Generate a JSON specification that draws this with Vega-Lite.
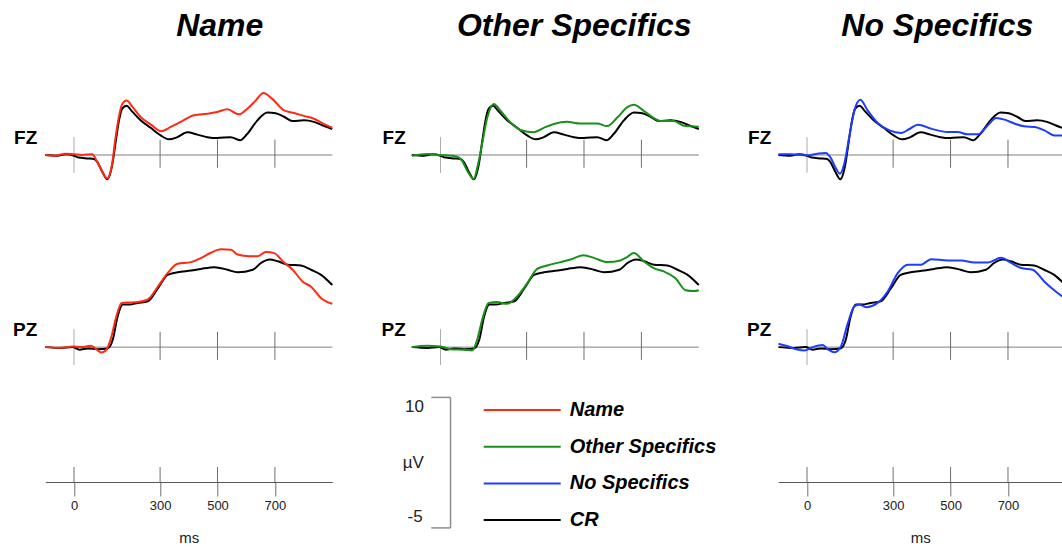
{
"$schema": "https://vega.github.io/schema/vega-lite/v6.json",
"padding": {"left": 12.3, "top": 10, "right": 0, "bottom": 0},
"background": "white",
"config": {"view": {"stroke": null}, "font": "Liberation Sans"},
"datasets": {
"ticks": [{"t": 0}, {"t": 300}, {"t": 500}, {"t": 700}],
"erp": [
{"cond":"CR","site":"FZ","t":-100,"v":0},{"cond":"CR","site":"FZ","t":-58,"v":-0.08},{"cond":"CR","site":"FZ","t":-29,"v":0.08},{"cond":"CR","site":"FZ","t":0,"v":-0.08},{"cond":"CR","site":"FZ","t":17,"v":-0.3},{"cond":"CR","site":"FZ","t":46,"v":-0.4},{"cond":"CR","site":"FZ","t":70,"v":-0.47},{"cond":"CR","site":"FZ","t":81,"v":-0.8},{"cond":"CR","site":"FZ","t":99,"v":-2.0},{"cond":"CR","site":"FZ","t":116,"v":-2.85},{"cond":"CR","site":"FZ","t":134,"v":-1.0},{"cond":"CR","site":"FZ","t":145,"v":1.5},{"cond":"CR","site":"FZ","t":157,"v":4.1},{"cond":"CR","site":"FZ","t":168,"v":5.45},{"cond":"CR","site":"FZ","t":183,"v":5.8},{"cond":"CR","site":"FZ","t":203,"v":5.1},{"cond":"CR","site":"FZ","t":232,"v":4.1},{"cond":"CR","site":"FZ","t":267,"v":3.2},{"cond":"CR","site":"FZ","t":302,"v":2.3},{"cond":"CR","site":"FZ","t":331,"v":1.84},{"cond":"CR","site":"FZ","t":360,"v":2.1},{"cond":"CR","site":"FZ","t":395,"v":2.67},{"cond":"CR","site":"FZ","t":430,"v":2.4},{"cond":"CR","site":"FZ","t":465,"v":2.1},{"cond":"CR","site":"FZ","t":499,"v":2.0},{"cond":"CR","site":"FZ","t":546,"v":2.1},{"cond":"CR","site":"FZ","t":578,"v":1.73},{"cond":"CR","site":"FZ","t":604,"v":2.5},{"cond":"CR","site":"FZ","t":639,"v":4.08},{"cond":"CR","site":"FZ","t":674,"v":5.0},{"cond":"CR","site":"FZ","t":703,"v":4.9},{"cond":"CR","site":"FZ","t":732,"v":4.5},{"cond":"CR","site":"FZ","t":761,"v":4.0},{"cond":"CR","site":"FZ","t":801,"v":4.08},{"cond":"CR","site":"FZ","t":836,"v":3.9},{"cond":"CR","site":"FZ","t":865,"v":3.5},{"cond":"CR","site":"FZ","t":900,"v":3.06},
{"cond":"Name","site":"FZ","t":-100,"v":0},{"cond":"Name","site":"FZ","t":-70,"v":-0.08},{"cond":"Name","site":"FZ","t":-29,"v":0.16},{"cond":"Name","site":"FZ","t":0,"v":0.08},{"cond":"Name","site":"FZ","t":29,"v":0},{"cond":"Name","site":"FZ","t":64,"v":0.1},{"cond":"Name","site":"FZ","t":75,"v":-0.43},{"cond":"Name","site":"FZ","t":93,"v":-1.6},{"cond":"Name","site":"FZ","t":116,"v":-2.75},{"cond":"Name","site":"FZ","t":132,"v":-1.2},{"cond":"Name","site":"FZ","t":145,"v":2.1},{"cond":"Name","site":"FZ","t":157,"v":4.6},{"cond":"Name","site":"FZ","t":168,"v":6.0},{"cond":"Name","site":"FZ","t":183,"v":6.4},{"cond":"Name","site":"FZ","t":203,"v":5.7},{"cond":"Name","site":"FZ","t":232,"v":4.47},{"cond":"Name","site":"FZ","t":267,"v":3.6},{"cond":"Name","site":"FZ","t":304,"v":2.8},{"cond":"Name","site":"FZ","t":337,"v":3.3},{"cond":"Name","site":"FZ","t":372,"v":3.9},{"cond":"Name","site":"FZ","t":418,"v":4.67},{"cond":"Name","site":"FZ","t":465,"v":4.86},{"cond":"Name","site":"FZ","t":499,"v":5.06},{"cond":"Name","site":"FZ","t":534,"v":5.37},{"cond":"Name","site":"FZ","t":575,"v":4.78},{"cond":"Name","site":"FZ","t":604,"v":5.45},{"cond":"Name","site":"FZ","t":633,"v":6.4},{"cond":"Name","site":"FZ","t":660,"v":7.3},{"cond":"Name","site":"FZ","t":691,"v":6.6},{"cond":"Name","site":"FZ","t":732,"v":5.25},{"cond":"Name","site":"FZ","t":767,"v":4.94},{"cond":"Name","site":"FZ","t":801,"v":4.6},{"cond":"Name","site":"FZ","t":836,"v":4.27},{"cond":"Name","site":"FZ","t":865,"v":3.76},{"cond":"Name","site":"FZ","t":900,"v":3.2},
{"cond":"CR","site":"PZ","t":-100,"v":0},{"cond":"CR","site":"PZ","t":-45,"v":-0.1},{"cond":"CR","site":"PZ","t":-5,"v":0},{"cond":"CR","site":"PZ","t":19,"v":-0.3},{"cond":"CR","site":"PZ","t":48,"v":-0.16},{"cond":"CR","site":"PZ","t":82,"v":-0.24},{"cond":"CR","site":"PZ","t":117,"v":-0.16},{"cond":"CR","site":"PZ","t":135,"v":0.86},{"cond":"CR","site":"PZ","t":152,"v":3.6},{"cond":"CR","site":"PZ","t":170,"v":5.0},{"cond":"CR","site":"PZ","t":193,"v":5.0},{"cond":"CR","site":"PZ","t":222,"v":5.2},{"cond":"CR","site":"PZ","t":257,"v":5.4},{"cond":"CR","site":"PZ","t":292,"v":6.9},{"cond":"CR","site":"PZ","t":326,"v":8.5},{"cond":"CR","site":"PZ","t":361,"v":8.8},{"cond":"CR","site":"PZ","t":408,"v":9.0},{"cond":"CR","site":"PZ","t":443,"v":9.2},{"cond":"CR","site":"PZ","t":489,"v":9.4},{"cond":"CR","site":"PZ","t":535,"v":9.1},{"cond":"CR","site":"PZ","t":570,"v":8.8},{"cond":"CR","site":"PZ","t":623,"v":9.1},{"cond":"CR","site":"PZ","t":652,"v":9.9},{"cond":"CR","site":"PZ","t":681,"v":10.3},{"cond":"CR","site":"PZ","t":710,"v":10.1},{"cond":"CR","site":"PZ","t":744,"v":9.7},{"cond":"CR","site":"PZ","t":791,"v":9.6},{"cond":"CR","site":"PZ","t":826,"v":9.1},{"cond":"CR","site":"PZ","t":861,"v":8.5},{"cond":"CR","site":"PZ","t":900,"v":7.3},
{"cond":"Name","site":"PZ","t":-100,"v":0},{"cond":"Name","site":"PZ","t":-45,"v":-0.08},{"cond":"Name","site":"PZ","t":-5,"v":0.08},{"cond":"Name","site":"PZ","t":24,"v":0},{"cond":"Name","site":"PZ","t":59,"v":0.16},{"cond":"Name","site":"PZ","t":80,"v":-0.3},{"cond":"Name","site":"PZ","t":94,"v":-0.63},{"cond":"Name","site":"PZ","t":111,"v":-0.4},{"cond":"Name","site":"PZ","t":129,"v":1.06},{"cond":"Name","site":"PZ","t":146,"v":3.4},{"cond":"Name","site":"PZ","t":166,"v":5.2},{"cond":"Name","site":"PZ","t":193,"v":5.25},{"cond":"Name","site":"PZ","t":222,"v":5.3},{"cond":"Name","site":"PZ","t":257,"v":5.6},{"cond":"Name","site":"PZ","t":292,"v":7.1},{"cond":"Name","site":"PZ","t":326,"v":8.7},{"cond":"Name","site":"PZ","t":361,"v":9.8},{"cond":"Name","site":"PZ","t":408,"v":10.0},{"cond":"Name","site":"PZ","t":443,"v":10.5},{"cond":"Name","site":"PZ","t":477,"v":11.1},{"cond":"Name","site":"PZ","t":512,"v":11.5},{"cond":"Name","site":"PZ","t":547,"v":11.45},{"cond":"Name","site":"PZ","t":570,"v":10.9},{"cond":"Name","site":"PZ","t":611,"v":10.7},{"cond":"Name","site":"PZ","t":640,"v":10.7},{"cond":"Name","site":"PZ","t":669,"v":11.2},{"cond":"Name","site":"PZ","t":698,"v":11.06},{"cond":"Name","site":"PZ","t":727,"v":10.1},{"cond":"Name","site":"PZ","t":762,"v":9.1},{"cond":"Name","site":"PZ","t":797,"v":7.7},{"cond":"Name","site":"PZ","t":826,"v":7.1},{"cond":"Name","site":"PZ","t":861,"v":5.76},{"cond":"Name","site":"PZ","t":900,"v":5.1},
{"cond":"Other Specifics","site":"FZ","t":-100,"v":-0.08},{"cond":"Other Specifics","site":"FZ","t":-46,"v":0.12},{"cond":"Other Specifics","site":"FZ","t":0,"v":0},{"cond":"Other Specifics","site":"FZ","t":58,"v":-0.2},{"cond":"Other Specifics","site":"FZ","t":75,"v":-0.67},{"cond":"Other Specifics","site":"FZ","t":93,"v":-1.84},{"cond":"Other Specifics","site":"FZ","t":116,"v":-2.8},{"cond":"Other Specifics","site":"FZ","t":130,"v":-1.2},{"cond":"Other Specifics","site":"FZ","t":145,"v":1.3},{"cond":"Other Specifics","site":"FZ","t":163,"v":4.4},{"cond":"Other Specifics","site":"FZ","t":186,"v":6.0},{"cond":"Other Specifics","site":"FZ","t":209,"v":5.2},{"cond":"Other Specifics","site":"FZ","t":244,"v":3.84},{"cond":"Other Specifics","site":"FZ","t":279,"v":2.94},{"cond":"Other Specifics","site":"FZ","t":325,"v":2.67},{"cond":"Other Specifics","site":"FZ","t":360,"v":3.2},{"cond":"Other Specifics","site":"FZ","t":395,"v":3.65},{"cond":"Other Specifics","site":"FZ","t":441,"v":3.9},{"cond":"Other Specifics","site":"FZ","t":488,"v":3.7},{"cond":"Other Specifics","site":"FZ","t":546,"v":3.7},{"cond":"Other Specifics","site":"FZ","t":581,"v":3.4},{"cond":"Other Specifics","site":"FZ","t":616,"v":4.4},{"cond":"Other Specifics","site":"FZ","t":650,"v":5.6},{"cond":"Other Specifics","site":"FZ","t":674,"v":5.9},{"cond":"Other Specifics","site":"FZ","t":708,"v":5.2},{"cond":"Other Specifics","site":"FZ","t":743,"v":4.35},{"cond":"Other Specifics","site":"FZ","t":767,"v":4.0},{"cond":"Other Specifics","site":"FZ","t":813,"v":4.0},{"cond":"Other Specifics","site":"FZ","t":848,"v":3.45},{"cond":"Other Specifics","site":"FZ","t":900,"v":3.33},
{"cond":"Other Specifics","site":"PZ","t":-100,"v":0},{"cond":"Other Specifics","site":"PZ","t":-46,"v":0.16},{"cond":"Other Specifics","site":"PZ","t":0,"v":0.08},{"cond":"Other Specifics","site":"PZ","t":35,"v":-0.24},{"cond":"Other Specifics","site":"PZ","t":81,"v":-0.3},{"cond":"Other Specifics","site":"PZ","t":110,"v":-0.4},{"cond":"Other Specifics","site":"PZ","t":128,"v":0.86},{"cond":"Other Specifics","site":"PZ","t":145,"v":3.2},{"cond":"Other Specifics","site":"PZ","t":168,"v":5.2},{"cond":"Other Specifics","site":"PZ","t":197,"v":5.3},{"cond":"Other Specifics","site":"PZ","t":232,"v":5.1},{"cond":"Other Specifics","site":"PZ","t":267,"v":5.96},{"cond":"Other Specifics","site":"PZ","t":302,"v":7.5},{"cond":"Other Specifics","site":"PZ","t":337,"v":9.2},{"cond":"Other Specifics","site":"PZ","t":372,"v":9.6},{"cond":"Other Specifics","site":"PZ","t":418,"v":10.0},{"cond":"Other Specifics","site":"PZ","t":453,"v":10.3},{"cond":"Other Specifics","site":"PZ","t":499,"v":10.8},{"cond":"Other Specifics","site":"PZ","t":534,"v":10.5},{"cond":"Other Specifics","site":"PZ","t":581,"v":10.0},{"cond":"Other Specifics","site":"PZ","t":627,"v":10.2},{"cond":"Other Specifics","site":"PZ","t":650,"v":10.6},{"cond":"Other Specifics","site":"PZ","t":674,"v":11.06},{"cond":"Other Specifics","site":"PZ","t":708,"v":10.1},{"cond":"Other Specifics","site":"PZ","t":743,"v":9.3},{"cond":"Other Specifics","site":"PZ","t":778,"v":8.9},{"cond":"Other Specifics","site":"PZ","t":819,"v":8.1},{"cond":"Other Specifics","site":"PZ","t":854,"v":6.7},{"cond":"Other Specifics","site":"PZ","t":883,"v":6.6},{"cond":"Other Specifics","site":"PZ","t":900,"v":6.7},
{"cond":"No Specifics","site":"FZ","t":-100,"v":0.08},{"cond":"No Specifics","site":"FZ","t":-56,"v":0.08},{"cond":"No Specifics","site":"FZ","t":0,"v":-0.04},{"cond":"No Specifics","site":"FZ","t":37,"v":0.16},{"cond":"No Specifics","site":"FZ","t":66,"v":0.24},{"cond":"No Specifics","site":"FZ","t":84,"v":-0.43},{"cond":"No Specifics","site":"FZ","t":101,"v":-1.6},{"cond":"No Specifics","site":"FZ","t":115,"v":-2.2},{"cond":"No Specifics","site":"FZ","t":130,"v":-1.0},{"cond":"No Specifics","site":"FZ","t":147,"v":2.1},{"cond":"No Specifics","site":"FZ","t":165,"v":5.25},{"cond":"No Specifics","site":"FZ","t":186,"v":6.5},{"cond":"No Specifics","site":"FZ","t":211,"v":5.25},{"cond":"No Specifics","site":"FZ","t":246,"v":3.76},{"cond":"No Specifics","site":"FZ","t":287,"v":2.9},{"cond":"No Specifics","site":"FZ","t":328,"v":2.6},{"cond":"No Specifics","site":"FZ","t":357,"v":3.06},{"cond":"No Specifics","site":"FZ","t":386,"v":3.57},{"cond":"No Specifics","site":"FZ","t":432,"v":3.1},{"cond":"No Specifics","site":"FZ","t":490,"v":2.7},{"cond":"No Specifics","site":"FZ","t":525,"v":2.7},{"cond":"No Specifics","site":"FZ","t":560,"v":2.43},{"cond":"No Specifics","site":"FZ","t":595,"v":2.43},{"cond":"No Specifics","site":"FZ","t":630,"v":3.5},{"cond":"No Specifics","site":"FZ","t":659,"v":4.35},{"cond":"No Specifics","site":"FZ","t":688,"v":4.16},{"cond":"No Specifics","site":"FZ","t":722,"v":3.7},{"cond":"No Specifics","site":"FZ","t":757,"v":3.37},{"cond":"No Specifics","site":"FZ","t":792,"v":3.3},{"cond":"No Specifics","site":"FZ","t":827,"v":2.9},{"cond":"No Specifics","site":"FZ","t":862,"v":2.3},{"cond":"No Specifics","site":"FZ","t":900,"v":2.3},
{"cond":"No Specifics","site":"PZ","t":-100,"v":0.4},{"cond":"No Specifics","site":"PZ","t":-73,"v":0.16},{"cond":"No Specifics","site":"PZ","t":-38,"v":-0.24},{"cond":"No Specifics","site":"PZ","t":-9,"v":-0.4},{"cond":"No Specifics","site":"PZ","t":20,"v":0},{"cond":"No Specifics","site":"PZ","t":55,"v":0.24},{"cond":"No Specifics","site":"PZ","t":72,"v":-0.24},{"cond":"No Specifics","site":"PZ","t":95,"v":-0.6},{"cond":"No Specifics","site":"PZ","t":118,"v":0.08},{"cond":"No Specifics","site":"PZ","t":142,"v":2.8},{"cond":"No Specifics","site":"PZ","t":165,"v":4.8},{"cond":"No Specifics","site":"PZ","t":182,"v":5.0},{"cond":"No Specifics","site":"PZ","t":206,"v":4.7},{"cond":"No Specifics","site":"PZ","t":246,"v":5.2},{"cond":"No Specifics","site":"PZ","t":281,"v":6.55},{"cond":"No Specifics","site":"PZ","t":316,"v":8.7},{"cond":"No Specifics","site":"PZ","t":351,"v":9.7},{"cond":"No Specifics","site":"PZ","t":397,"v":9.7},{"cond":"No Specifics","site":"PZ","t":432,"v":10.35},{"cond":"No Specifics","site":"PZ","t":490,"v":10.2},{"cond":"No Specifics","site":"PZ","t":537,"v":10.2},{"cond":"No Specifics","site":"PZ","t":583,"v":9.96},{"cond":"No Specifics","site":"PZ","t":630,"v":9.96},{"cond":"No Specifics","site":"PZ","t":676,"v":10.5},{"cond":"No Specifics","site":"PZ","t":711,"v":9.9},{"cond":"No Specifics","site":"PZ","t":746,"v":9.3},{"cond":"No Specifics","site":"PZ","t":786,"v":9.1},{"cond":"No Specifics","site":"PZ","t":827,"v":7.7},{"cond":"No Specifics","site":"PZ","t":862,"v":6.67},{"cond":"No Specifics","site":"PZ","t":900,"v":5.7}
]
},
"columns": 3,
"bounds": "flush",
"spacing": {"row": 0, "column": 79.5},
"concat": [
{"width": 287, "height": 153,
 "title": {"text": "Name", "font": "Liberation Sans", "fontSize": 32, "fontWeight": "bold", "fontStyle": "italic", "color": "#000000", "anchor": "middle", "frame": "group", "dx": 31, "offset": 2, "baseline": "alphabetic"},
 "layer": [
  {"data": {"values": [{}]}, "mark": {"type": "rule", "color": "#808080", "strokeWidth": 1}, "encoding": {"x": {"datum": -100, "type": "quantitative", "scale": {"domain": [-100, 900], "nice": false, "zero": false}, "axis": null}, "x2": {"datum": 900}, "y": {"datum": 0, "type": "quantitative", "scale": {"domain": [-8, 10], "nice": false, "zero": false}, "axis": null}}},
  {"data": {"name": "ticks"}, "transform": [{"filter": "datum.t > 0"}], "mark": {"type": "rule", "color": "#6e6e6e", "strokeWidth": 1}, "encoding": {"x": {"field": "t", "type": "quantitative"}, "y": {"datum": 1.8, "type": "quantitative"}, "y2": {"datum": -1.5}}},
  {"data": {"name": "ticks"}, "transform": [{"filter": "datum.t === 0"}], "mark": {"type": "rule", "color": "#ababab", "strokeWidth": 1}, "encoding": {"x": {"field": "t", "type": "quantitative"}, "y": {"datum": 2.1, "type": "quantitative"}, "y2": {"datum": -2.1}}},
  {"data": {"name": "erp"}, "transform": [{"filter": "datum.site === 'FZ' && datum.cond === 'CR'"}], "mark": {"type": "line", "interpolate": "monotone", "strokeWidth": 2}, "encoding": {"x": {"field": "t", "type": "quantitative"}, "y": {"field": "v", "type": "quantitative"}, "color": {"field": "cond", "type": "nominal", "scale": {"domain": ["Name", "Other Specifics", "No Specifics", "CR"], "range": ["#ff2a12", "#199119", "#1e3cff", "#000000"]}, "legend": {"orient": "none", "legendX": 437.4, "legendY": 330, "title": null, "padding": 0, "symbolType": "stroke", "symbolSize": 5929, "symbolStrokeWidth": 2, "clipHeight": 20, "labelFont": "Liberation Sans", "labelFontSize": 20, "labelFontWeight": "bold", "labelFontStyle": "italic", "labelColor": "#000000", "labelOffset": 8, "labelLimit": 300, "rowPadding": 16.7}}}},
  {"data": {"name": "erp"}, "transform": [{"filter": "datum.site === 'FZ' && datum.cond === 'Name'"}], "mark": {"type": "line", "interpolate": "monotone", "strokeWidth": 2}, "encoding": {"x": {"field": "t", "type": "quantitative"}, "y": {"field": "v", "type": "quantitative"}, "color": {"field": "cond", "type": "nominal"}}},
  {"data": {"values": [{}]}, "mark": {"type": "text", "text": "FZ", "align": "right", "baseline": "middle", "dx": -8, "font": "Liberation Sans", "fontSize": 19, "fontWeight": "bold", "color": "#000000"}, "encoding": {"x": {"datum": -100, "type": "quantitative"}, "y": {"datum": 2, "type": "quantitative"}}}
 ]},
{"width": 287, "height": 153,
 "title": {"text": "Other Specifics", "font": "Liberation Sans", "fontSize": 32, "fontWeight": "bold", "fontStyle": "italic", "color": "#000000", "anchor": "middle", "frame": "group", "dx": 19, "offset": 2, "baseline": "alphabetic"},
 "layer": [
  {"data": {"values": [{}]}, "mark": {"type": "rule", "color": "#808080", "strokeWidth": 1}, "encoding": {"x": {"datum": -100, "type": "quantitative", "scale": {"domain": [-100, 900], "nice": false, "zero": false}, "axis": null}, "x2": {"datum": 900}, "y": {"datum": 0, "type": "quantitative", "scale": {"domain": [-8, 10], "nice": false, "zero": false}, "axis": null}}},
  {"data": {"name": "ticks"}, "transform": [{"filter": "datum.t > 0"}], "mark": {"type": "rule", "color": "#6e6e6e", "strokeWidth": 1}, "encoding": {"x": {"field": "t", "type": "quantitative"}, "y": {"datum": 1.8, "type": "quantitative"}, "y2": {"datum": -1.5}}},
  {"data": {"name": "ticks"}, "transform": [{"filter": "datum.t === 0"}], "mark": {"type": "rule", "color": "#ababab", "strokeWidth": 1}, "encoding": {"x": {"field": "t", "type": "quantitative"}, "y": {"datum": 2.1, "type": "quantitative"}, "y2": {"datum": -2.1}}},
  {"data": {"name": "erp"}, "transform": [{"filter": "datum.site === 'FZ' && datum.cond === 'CR'"}], "mark": {"type": "line", "interpolate": "monotone", "strokeWidth": 2}, "encoding": {"x": {"field": "t", "type": "quantitative"}, "y": {"field": "v", "type": "quantitative"}, "color": {"field": "cond", "type": "nominal"}}},
  {"data": {"name": "erp"}, "transform": [{"filter": "datum.site === 'FZ' && datum.cond === 'Other Specifics'"}], "mark": {"type": "line", "interpolate": "monotone", "strokeWidth": 2}, "encoding": {"x": {"field": "t", "type": "quantitative"}, "y": {"field": "v", "type": "quantitative"}, "color": {"field": "cond", "type": "nominal"}}},
  {"data": {"values": [{}]}, "mark": {"type": "text", "text": "FZ", "align": "right", "baseline": "middle", "dx": -6, "font": "Liberation Sans", "fontSize": 19, "fontWeight": "bold", "color": "#000000"}, "encoding": {"x": {"datum": -100, "type": "quantitative"}, "y": {"datum": 2, "type": "quantitative"}}}
 ]},
{"width": 284, "height": 153,
 "title": {"text": "No Specifics", "font": "Liberation Sans", "fontSize": 32, "fontWeight": "bold", "fontStyle": "italic", "color": "#000000", "anchor": "middle", "frame": "group", "dx": 17, "offset": 2, "baseline": "alphabetic"},
 "layer": [
  {"data": {"values": [{}]}, "mark": {"type": "rule", "color": "#808080", "strokeWidth": 1}, "encoding": {"x": {"datum": -100, "type": "quantitative", "scale": {"domain": [-100, 889.2], "nice": false, "zero": false}, "axis": null}, "x2": {"datum": 889.2}, "y": {"datum": 0, "type": "quantitative", "scale": {"domain": [-8, 10], "nice": false, "zero": false}, "axis": null}}},
  {"data": {"name": "ticks"}, "transform": [{"filter": "datum.t > 0"}], "mark": {"type": "rule", "color": "#6e6e6e", "strokeWidth": 1}, "encoding": {"x": {"field": "t", "type": "quantitative"}, "y": {"datum": 1.8, "type": "quantitative"}, "y2": {"datum": -1.5}}},
  {"data": {"name": "ticks"}, "transform": [{"filter": "datum.t === 0"}], "mark": {"type": "rule", "color": "#ababab", "strokeWidth": 1}, "encoding": {"x": {"field": "t", "type": "quantitative"}, "y": {"datum": 2.1, "type": "quantitative"}, "y2": {"datum": -2.1}}},
  {"data": {"name": "erp"}, "transform": [{"filter": "datum.site === 'FZ' && datum.cond === 'CR'"}], "mark": {"type": "line", "interpolate": "monotone", "strokeWidth": 2, "clip": true}, "encoding": {"x": {"field": "t", "type": "quantitative"}, "y": {"field": "v", "type": "quantitative"}, "color": {"field": "cond", "type": "nominal"}}},
  {"data": {"name": "erp"}, "transform": [{"filter": "datum.site === 'FZ' && datum.cond === 'No Specifics'"}], "mark": {"type": "line", "interpolate": "monotone", "strokeWidth": 2, "clip": true}, "encoding": {"x": {"field": "t", "type": "quantitative"}, "y": {"field": "v", "type": "quantitative"}, "color": {"field": "cond", "type": "nominal"}}},
  {"data": {"values": [{}]}, "mark": {"type": "text", "text": "FZ", "align": "right", "baseline": "middle", "dx": -7, "font": "Liberation Sans", "fontSize": 19, "fontWeight": "bold", "color": "#000000"}, "encoding": {"x": {"datum": -100, "type": "quantitative"}, "y": {"datum": 2, "type": "quantitative"}}}
 ]},
{"width": 287, "height": 244,
 "layer": [
  {"data": {"values": [{}]}, "mark": {"type": "rule", "color": "#808080", "strokeWidth": 1}, "encoding": {"x": {"datum": -100, "type": "quantitative", "scale": {"domain": [-100, 900], "nice": false, "zero": false}, "axis": null}, "x2": {"datum": 900}, "y": {"datum": 0, "type": "quantitative", "scale": {"domain": [-14.1, 14.6], "nice": false, "zero": false}, "axis": null}}},
  {"data": {"name": "ticks"}, "transform": [{"filter": "datum.t > 0"}], "mark": {"type": "rule", "color": "#6e6e6e", "strokeWidth": 1}, "encoding": {"x": {"field": "t", "type": "quantitative"}, "y": {"datum": 1.8, "type": "quantitative"}, "y2": {"datum": -1.5}}},
  {"data": {"name": "ticks"}, "transform": [{"filter": "datum.t === 0"}], "mark": {"type": "rule", "color": "#ababab", "strokeWidth": 1}, "encoding": {"x": {"field": "t", "type": "quantitative"}, "y": {"datum": 2.1, "type": "quantitative"}, "y2": {"datum": -2.1}}},
  {"data": {"name": "erp"}, "transform": [{"filter": "datum.site === 'PZ' && datum.cond === 'CR'"}], "mark": {"type": "line", "interpolate": "monotone", "strokeWidth": 2}, "encoding": {"x": {"field": "t", "type": "quantitative"}, "y": {"field": "v", "type": "quantitative"}, "color": {"field": "cond", "type": "nominal"}}},
  {"data": {"name": "erp"}, "transform": [{"filter": "datum.site === 'PZ' && datum.cond === 'Name'"}], "mark": {"type": "line", "interpolate": "monotone", "strokeWidth": 2}, "encoding": {"x": {"field": "t", "type": "quantitative"}, "y": {"field": "v", "type": "quantitative"}, "color": {"field": "cond", "type": "nominal"}}},
  {"data": {"values": [{}]}, "mark": {"type": "text", "text": "PZ", "align": "right", "baseline": "middle", "dx": -8, "font": "Liberation Sans", "fontSize": 19, "fontWeight": "bold", "color": "#000000"}, "encoding": {"x": {"datum": -100, "type": "quantitative"}, "y": {"datum": 2, "type": "quantitative"}}}
 ]},
{"width": 287, "height": 244,
 "layer": [
  {"data": {"values": [{}]}, "mark": {"type": "rule", "color": "#808080", "strokeWidth": 1}, "encoding": {"x": {"datum": -100, "type": "quantitative", "scale": {"domain": [-100, 900], "nice": false, "zero": false}, "axis": null}, "x2": {"datum": 900}, "y": {"datum": 0, "type": "quantitative", "scale": {"domain": [-14.1, 14.6], "nice": false, "zero": false}, "axis": null}}},
  {"data": {"name": "ticks"}, "transform": [{"filter": "datum.t > 0"}], "mark": {"type": "rule", "color": "#6e6e6e", "strokeWidth": 1}, "encoding": {"x": {"field": "t", "type": "quantitative"}, "y": {"datum": 1.8, "type": "quantitative"}, "y2": {"datum": -1.5}}},
  {"data": {"name": "ticks"}, "transform": [{"filter": "datum.t === 0"}], "mark": {"type": "rule", "color": "#ababab", "strokeWidth": 1}, "encoding": {"x": {"field": "t", "type": "quantitative"}, "y": {"datum": 2.1, "type": "quantitative"}, "y2": {"datum": -2.1}}},
  {"data": {"name": "erp"}, "transform": [{"filter": "datum.site === 'PZ' && datum.cond === 'CR'"}], "mark": {"type": "line", "interpolate": "monotone", "strokeWidth": 2}, "encoding": {"x": {"field": "t", "type": "quantitative"}, "y": {"field": "v", "type": "quantitative"}, "color": {"field": "cond", "type": "nominal"}}},
  {"data": {"name": "erp"}, "transform": [{"filter": "datum.site === 'PZ' && datum.cond === 'Other Specifics'"}], "mark": {"type": "line", "interpolate": "monotone", "strokeWidth": 2}, "encoding": {"x": {"field": "t", "type": "quantitative"}, "y": {"field": "v", "type": "quantitative"}, "color": {"field": "cond", "type": "nominal"}}},
  {"data": {"values": [{}]}, "mark": {"type": "text", "text": "PZ", "align": "right", "baseline": "middle", "dx": -6, "font": "Liberation Sans", "fontSize": 19, "fontWeight": "bold", "color": "#000000"}, "encoding": {"x": {"datum": -100, "type": "quantitative"}, "y": {"datum": 2, "type": "quantitative"}}}
 ]},
{"width": 284, "height": 244,
 "layer": [
  {"data": {"values": [{}]}, "mark": {"type": "rule", "color": "#808080", "strokeWidth": 1}, "encoding": {"x": {"datum": -100, "type": "quantitative", "scale": {"domain": [-100, 889.2], "nice": false, "zero": false}, "axis": null}, "x2": {"datum": 889.2}, "y": {"datum": 0, "type": "quantitative", "scale": {"domain": [-14.1, 14.6], "nice": false, "zero": false}, "axis": null}}},
  {"data": {"name": "ticks"}, "transform": [{"filter": "datum.t > 0"}], "mark": {"type": "rule", "color": "#6e6e6e", "strokeWidth": 1}, "encoding": {"x": {"field": "t", "type": "quantitative"}, "y": {"datum": 1.8, "type": "quantitative"}, "y2": {"datum": -1.5}}},
  {"data": {"name": "ticks"}, "transform": [{"filter": "datum.t === 0"}], "mark": {"type": "rule", "color": "#ababab", "strokeWidth": 1}, "encoding": {"x": {"field": "t", "type": "quantitative"}, "y": {"datum": 2.1, "type": "quantitative"}, "y2": {"datum": -2.1}}},
  {"data": {"name": "erp"}, "transform": [{"filter": "datum.site === 'PZ' && datum.cond === 'CR'"}], "mark": {"type": "line", "interpolate": "monotone", "strokeWidth": 2, "clip": true}, "encoding": {"x": {"field": "t", "type": "quantitative"}, "y": {"field": "v", "type": "quantitative"}, "color": {"field": "cond", "type": "nominal"}}},
  {"data": {"name": "erp"}, "transform": [{"filter": "datum.site === 'PZ' && datum.cond === 'No Specifics'"}], "mark": {"type": "line", "interpolate": "monotone", "strokeWidth": 2, "clip": true}, "encoding": {"x": {"field": "t", "type": "quantitative"}, "y": {"field": "v", "type": "quantitative"}, "color": {"field": "cond", "type": "nominal"}}},
  {"data": {"values": [{}]}, "mark": {"type": "text", "text": "PZ", "align": "right", "baseline": "middle", "dx": -7, "font": "Liberation Sans", "fontSize": 19, "fontWeight": "bold", "color": "#000000"}, "encoding": {"x": {"datum": -100, "type": "quantitative"}, "y": {"datum": 2, "type": "quantitative"}}}
 ]},
{"width": 287, "height": 15,
 "data": {"name": "ticks"},
 "mark": {"type": "rule", "color": "#6e6e6e", "strokeWidth": 1},
 "encoding": {"x": {"field": "t", "type": "quantitative", "scale": {"domain": [-100, 900], "nice": false, "zero": false}, "axis": {"values": [0, 300, 500, 700], "grid": false, "domainColor": "#555555", "domainWidth": 1, "tickColor": "#6e6e6e", "tickSize": 14, "tickWidth": 1, "labelFont": "Liberation Sans", "labelFontSize": 13, "labelColor": "#222222", "labelPadding": 4, "labelFlush": false, "title": "ms", "titleFont": "Liberation Sans", "titleFontSize": 15, "titleFontWeight": "normal", "titleColor": "#222222", "titlePadding": 18}}}},
{"width": 287, "height": 60.9,
 "layer": [
  {"data": {"values": [{}]}, "mark": {"type": "rule", "color": "#8c8c8c", "strokeWidth": 1.5}, "encoding": {"x": {"datum": 35, "type": "quantitative", "scale": {"domain": [-100, 900], "nice": false, "zero": false}, "axis": null}, "y": {"datum": 10, "type": "quantitative", "scale": {"domain": [-5, 2], "nice": false, "zero": false}, "axis": null}, "y2": {"datum": -5}}},
  {"data": {"values": [{}]}, "mark": {"type": "rule", "color": "#8c8c8c", "strokeWidth": 1.5}, "encoding": {"x": {"datum": -32, "type": "quantitative"}, "x2": {"datum": 35}, "y": {"datum": 10, "type": "quantitative"}}},
  {"data": {"values": [{}]}, "mark": {"type": "rule", "color": "#8c8c8c", "strokeWidth": 1.5}, "encoding": {"x": {"datum": -32, "type": "quantitative"}, "x2": {"datum": 35}, "y": {"datum": -5, "type": "quantitative"}}},
  {"data": {"values": [{}]}, "mark": {"type": "text", "text": "10", "align": "right", "baseline": "middle", "font": "Liberation Sans", "fontSize": 17, "color": "#222222"}, "encoding": {"x": {"datum": -58, "type": "quantitative"}, "y": {"datum": 8.85, "type": "quantitative"}}},
  {"data": {"values": [{}]}, "mark": {"type": "text", "text": "µV", "align": "right", "baseline": "middle", "font": "Liberation Sans", "fontSize": 17, "color": "#222222"}, "encoding": {"x": {"datum": -58, "type": "quantitative"}, "y": {"datum": 2.5, "type": "quantitative"}}},
  {"data": {"values": [{}]}, "mark": {"type": "text", "text": "-5", "align": "right", "baseline": "middle", "font": "Liberation Sans", "fontSize": 17, "color": "#222222"}, "encoding": {"x": {"datum": -62, "type": "quantitative"}, "y": {"datum": -3.8, "type": "quantitative"}}}
 ]},
{"width": 284, "height": 15,
 "data": {"name": "ticks"},
 "mark": {"type": "rule", "color": "#6e6e6e", "strokeWidth": 1},
 "encoding": {"x": {"field": "t", "type": "quantitative", "scale": {"domain": [-100, 889.2], "nice": false, "zero": false}, "axis": {"values": [0, 300, 500, 700], "grid": false, "domainColor": "#555555", "domainWidth": 1, "tickColor": "#6e6e6e", "tickSize": 14, "tickWidth": 1, "labelFont": "Liberation Sans", "labelFontSize": 13, "labelColor": "#222222", "labelPadding": 4, "labelFlush": false, "title": "ms", "titleFont": "Liberation Sans", "titleFontSize": 15, "titleFontWeight": "normal", "titleColor": "#222222", "titlePadding": 18}}}}
]
}
